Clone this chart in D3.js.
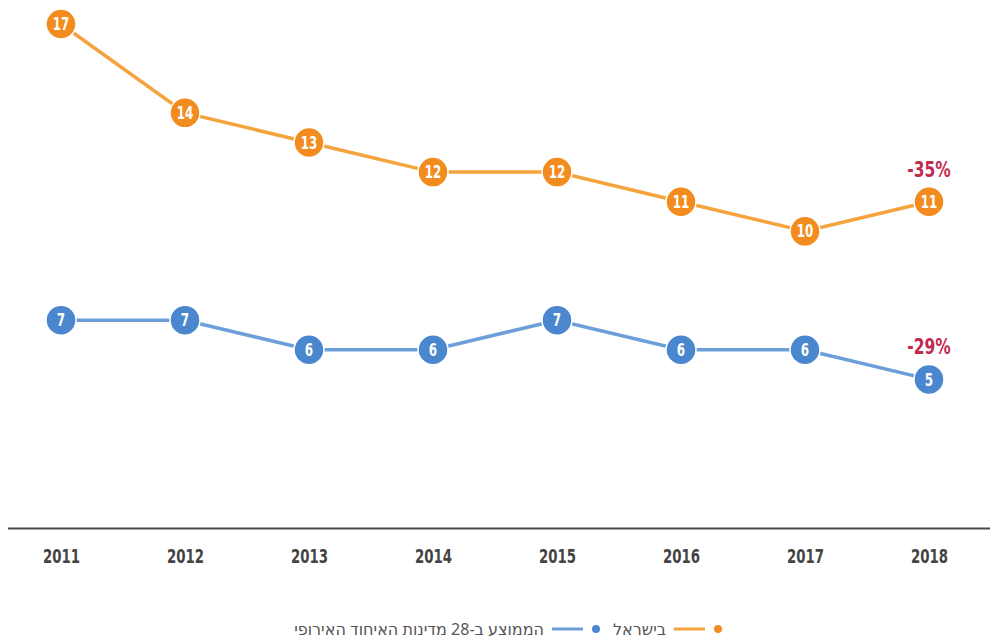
<!DOCTYPE html>
<html>
<head>
<meta charset="utf-8">
<script src="https://cdn.jsdelivr.net/npm/d3@7"></script>
<style>
  body { margin: 0; background: #fff; }
  svg text { font-family: "DejaVu Sans Condensed", "DejaVu Sans", sans-serif; font-stretch: condensed; }
</style>
</head>
<body>
<div id="chart"></div>
<script>
const years = [2011, 2012, 2013, 2014, 2015, 2016, 2017, 2018];
const israel = [17, 14, 13, 12, 12, 11, 10, 11];
const euAverage = [7, 7, 6, 6, 7, 6, 6, 5];
const changeLabels = ['-35%', '-29%'];
const legendLabels = ['בישראל', 'הממוצע ב-28 מדינות האיחוד האירופי'];

let width = 991, height = 639;
// narrow glyphs a bit, the original uses a condensed face
const squeeze = 0.78;

let svg = d3.select('#chart')
  .append('svg')
    .attr('width', width)
    .attr('height', height);

let x = d3.scalePoint().domain(years).range([61, 929]);
let y = d3.scaleLinear().domain([0, 17]).range([527.5, 24]);

// baseline
svg.append('line')
  .attr('x1', 8).attr('x2', 990)
  .attr('y1', y(0) + 1).attr('y2', y(0) + 1)
  .style('stroke', '#4a4a4a')
  .style('stroke-width', 2);

let xAxis = d3.axisBottom(x).tickSize(0).tickPadding(10);
let axisG = svg.append('g')
  .attr('transform', `translate(0,${y(0) + 12})`)
  .call(xAxis);
axisG.select('.domain').remove();
axisG.selectAll('text')
  .attr('transform', `scale(${squeeze},1)`)
  .style('font-size', '19px')
  .style('font-weight', 'bold')
  .style('fill', '#444');

let series = [
  {id: 'il', values: israel, line: '#f5a33c', dot: '#f28c1f', label: changeLabels[0]},
  {id: 'eu', values: euAverage, line: '#6c9fd9', dot: '#4a87cf', label: changeLabels[1]}
];

let line = d3.line()
  .x((d, i) => x(years[i]))
  .y(d => y(d));

series.forEach(s => {
  let g = svg.append('g');
  g.append('path')
    .attr('d', line(s.values))
    .style('fill', 'none')
    .style('stroke', s.line)
    .style('stroke-width', 3.5);

  let pts = g.selectAll('.pt')
    .data(s.values)
    .enter()
    .append('g')
      .attr('class', 'pt')
      .attr('transform', (d, i) => `translate(${x(years[i])},${y(d)})`);
  pts.append('circle')
    .attr('r', 15)
    .style('fill', s.dot)
    .style('stroke', '#fff')
    .style('stroke-width', 1.5);
  pts.append('text')
    .attr('text-anchor', 'middle')
    .attr('dy', '0.36em')
    .attr('transform', `scale(${squeeze},1)`)
    .style('font-size', '17px')
    .style('font-weight', 'bold')
    .style('fill', '#fff')
    .text(d => d);

  let last = s.values[s.values.length - 1];
  g.append('text')
    .attr('transform', `translate(${x(years[years.length - 1])},${y(last) - 25}) scale(${squeeze},1)`)
    .attr('text-anchor', 'middle')
    .style('font-size', '22px')
    .style('font-weight', 'bold')
    .style('fill', '#c2294f')
    .text(s.label);
});

// legend (right to left)
let legendY = 629;
let legendItems = [
  {text: legendLabels[0], line: series[0].line, dot: series[0].dot, x: 718},
  {text: legendLabels[1], line: series[1].line, dot: series[1].dot, x: 596}
];
legendItems.forEach(it => {
  let lg = svg.append('g');
  lg.append('circle')
    .attr('cx', it.x).attr('cy', legendY)
    .attr('r', 4)
    .style('fill', it.dot);
  lg.append('line')
    .attr('x1', it.x - 13).attr('x2', it.x - 44)
    .attr('y1', legendY).attr('y2', legendY)
    .style('stroke', it.line)
    .style('stroke-width', 3);
  lg.append('text')
    .attr('x', it.x - 52)
    .attr('y', legendY)
    .attr('dy', '0.35em')
    .attr('text-anchor', 'end')
    .style('font-family', '"Noto Sans", "DejaVu Sans", sans-serif')
    .style('font-stretch', 'normal')
    .style('font-size', '16px')
    .style('fill', '#555')
    .text(it.text);
});
</script>
</body>
</html>
